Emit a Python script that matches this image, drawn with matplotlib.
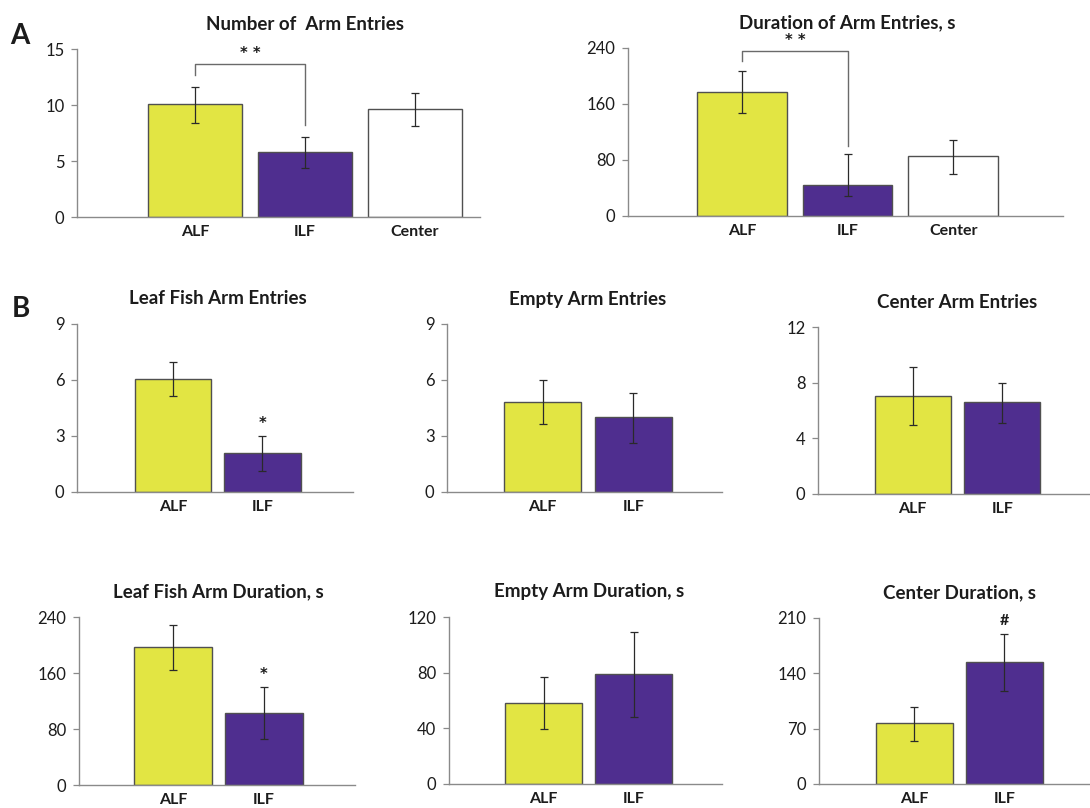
import matplotlib.pyplot as plt
from matplotlib.transforms import blended_transform_factory

plt.rcParams['font.family'] = ['Lato', 'DejaVu Sans']

YELLOW = '#e2e543'
PURPLE = '#4f2e8f'
WHITE = '#ffffff'
TEXT = '#1c1c1c'

# panel A
cats_a = ['ALF', 'ILF', 'Center']
entries_a = [10.1, 5.8, 9.65]
entries_a_hi = [11.63, 7.17, 11.07]
entries_a_lo = [8.42, 4.35, 8.13]
duration_a = [177, 44, 86]
duration_a_hi = [207, 88, 108]
duration_a_lo = [147, 28, 60]

# panel B
cats_b = ['ALF', 'ILF']
leaf_entries = [6.07, 2.09]
leaf_entries_hi = [6.96, 3.02]
leaf_entries_lo = [5.16, 1.14]
empty_entries = [4.82, 4.0]
empty_entries_hi = [6.02, 5.32]
empty_entries_lo = [3.64, 2.61]
center_entries = [7.04, 6.59]
center_entries_hi = [9.1, 8.0]
center_entries_lo = [4.99, 5.13]
leaf_duration = [197, 103.5]
leaf_duration_hi = [228, 140]
leaf_duration_lo = [164.6, 66.3]
empty_duration = [58.5, 79]
empty_duration_hi = [77, 109.2]
empty_duration_lo = [39.8, 48.5]
center_duration = [77.6, 154]
center_duration_hi = [97.8, 190.2]
center_duration_lo = [55, 118]

W, H = 1090, 808
fig = plt.figure(figsize=(W / 100, H / 100), dpi=100)


def px_axes(x0, x1, ytop, ybot):
    return fig.add_axes([x0 / W, 1 - ybot / H, (x1 - x0) / W, (ybot - ytop) / H])


def draw_panel(ax, cats, vals, lo, hi, colors, ymax, step, title, xlim):
    xs = list(range(len(cats)))
    ax.bar(xs, vals, width=0.85, color=colors, edgecolor='#505050', linewidth=1.0, zorder=2)
    yerr = [[v - l for v, l in zip(vals, lo)], [h - v for v, h in zip(vals, hi)]]
    ax.errorbar(xs, vals, yerr=yerr, fmt='none', ecolor='#2a2a2a', elinewidth=0.9,
                capsize=3, capthick=0.9, zorder=3)
    ax.set_xlim(*xlim)
    ax.set_ylim(0, ymax)
    ax.set_yticks(range(0, ymax + 1, step))
    ax.set_xticks(xs)
    ax.set_xticklabels(cats, fontweight='bold', fontsize=11.5, color=TEXT)
    ax.tick_params(axis='x', length=0, pad=6)
    ax.tick_params(axis='y', length=4, width=0.9, color='#8a8a8a', pad=5,
                   labelsize=12, labelcolor=TEXT)
    for s in ['top', 'right']:
        ax.spines[s].set_visible(False)
    for s in ['left', 'bottom']:
        ax.spines[s].set_color('#8a8a8a')
        ax.spines[s].set_linewidth(1.0)
    mid = (xs[0] + xs[-1]) / 2 if len(cats) == 2 else 1
    trans = blended_transform_factory(ax.transData, ax.transAxes)
    ax.annotate(title, xy=(mid, 1), xycoords=trans, xytext=(0, 18), textcoords='offset points',
                ha='center', va='center', fontsize=13.5, fontweight='bold', color=TEXT,
                annotation_clip=False)


def bracket(ax, x0, x1, y_left, y_top, y_right, y_text):
    ax.plot([x0, x0, x1, x1], [y_left, y_top, y_top, y_right], color='#6a6a6a',
            linewidth=1.0, clip_on=False, zorder=4)
    ax.text((x0 + x1) / 2, y_text, '* *', ha='center', va='center', fontsize=10.5,
            fontweight='bold', family='DejaVu Sans', color=TEXT, clip_on=False)


def mark(ax, x, y, s):
    ax.annotate(s, xy=(x, y), xytext=(0, 9), textcoords='offset points', ha='center',
                va='center', fontsize=10.5 if s == '*' else 11.5, fontweight='bold',
                family='DejaVu Sans' if s == '*' else 'Lato', color=TEXT,
                annotation_clip=False)


# A
ax1 = px_axes(77, 480, 49, 217)
draw_panel(ax1, cats_a, entries_a, entries_a_lo, entries_a_hi, [YELLOW, PURPLE, WHITE],
           15, 5, 'Number of  Arm Entries', (-1.07, 2.59))
bracket(ax1, 0, 1, 12.7, 13.66, 8.2, 14.6)

ax2 = px_axes(628, 1063, 48, 216)
draw_panel(ax2, cats_a, duration_a, duration_a_lo, duration_a_hi, [YELLOW, PURPLE, WHITE],
           240, 80, 'Duration of Arm Entries, s', (-1.08, 3.04))
bracket(ax2, 0, 1, 221, 236, 100.4, 251)

# B, row 1
ax3 = px_axes(77, 353, 324, 492)
draw_panel(ax3, cats_b, leaf_entries, leaf_entries_lo, leaf_entries_hi, [YELLOW, PURPLE],
           9, 3, 'Leaf Fish Arm Entries', (-1.07, 2.01))
mark(ax3, 1, leaf_entries_hi[1], '*')

ax4 = px_axes(447, 722, 324, 492)
draw_panel(ax4, cats_b, empty_entries, empty_entries_lo, empty_entries_hi, [YELLOW, PURPLE],
           9, 3, 'Empty Arm Entries', (-1.055, 1.98))

ax5 = px_axes(818, 1090, 327, 494)
draw_panel(ax5, cats_b, center_entries, center_entries_lo, center_entries_hi, [YELLOW, PURPLE],
           12, 4, 'Center Arm Entries', (-1.056, 1.98))

# B, row 2
ax6 = px_axes(79, 355, 617, 785)
draw_panel(ax6, cats_b, leaf_duration, leaf_duration_lo, leaf_duration_hi, [YELLOW, PURPLE],
           240, 80, 'Leaf Fish Arm Duration, s', (-1.03, 2.0))
mark(ax6, 1, leaf_duration_hi[1], '*')

ax7 = px_axes(449, 722, 617, 784)
draw_panel(ax7, cats_b, empty_duration, empty_duration_lo, empty_duration_hi, [YELLOW, PURPLE],
           120, 40, 'Empty Arm Duration, s', (-1.05, 1.98))

ax8 = px_axes(819, 1090, 618, 784)
draw_panel(ax8, cats_b, center_duration, center_duration_lo, center_duration_hi, [YELLOW, PURPLE],
           210, 70, 'Center Duration, s', (-1.06, 1.95))
mark(ax8, 1, center_duration_hi[1], '#')

fig.text(20 / W, 1 - 36 / H, 'A', fontsize=20, fontweight='bold', ha='center', va='center', color=TEXT)
fig.text(21 / W, 1 - 309 / H, 'B', fontsize=20, fontweight='bold', ha='center', va='center', color=TEXT)

fig.savefig('out.png', dpi=100)
